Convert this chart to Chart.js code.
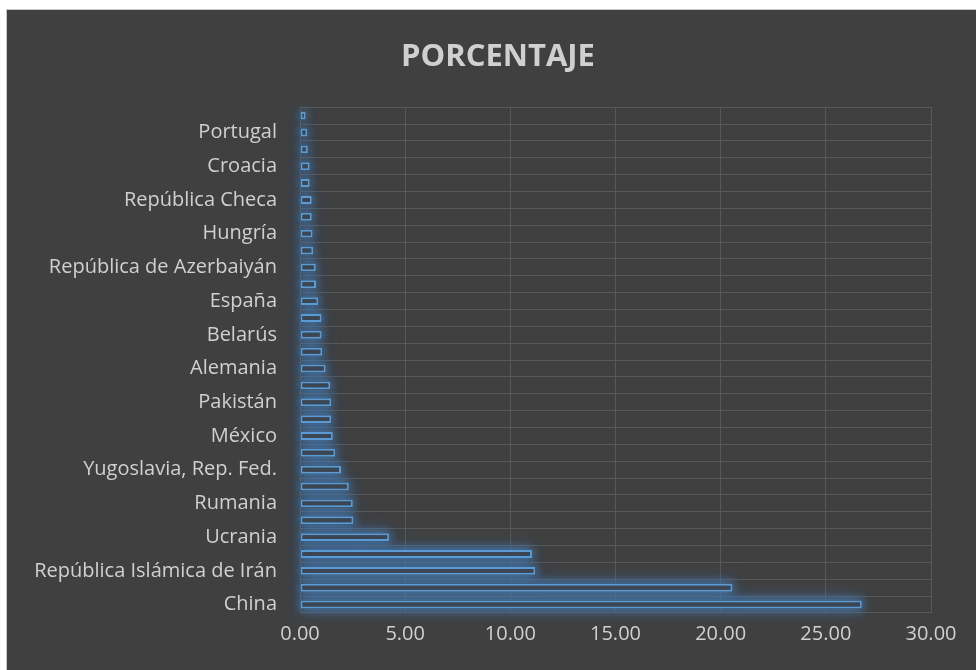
<!DOCTYPE html>
<html>
<head>
<meta charset="utf-8">
<script src="https://cdn.jsdelivr.net/npm/chart.js@4"></script>
<style>
  html, body { margin: 0; padding: 0; background: #ffffff; overflow: hidden; }
  #panel {
    position: absolute; left: 6px; top: 9px; width: 970px; height: 661px; overflow: hidden;
    background: #404040; border-left: 1px solid #c8c8c8; border-top: 1px solid #c8c8c8;
  }
  #chart { display: block; }
</style>
</head>
<body>
<div id="panel"><canvas id="chart" width="982" height="660"></canvas></div>
<script>
// bottom-to-top, as in the original sheet (first row = bottom bar)
const categories = [
  'China', '', 'República Islámica de Irán', '', 'Ucrania', '',
  'Rumania', '', 'Yugoslavia, Rep. Fed.', '', 'México', '',
  'Pakistán', '', 'Alemania', '', 'Belarús', '', 'España', '',
  'República de Azerbaiyán', '', 'Hungría', '', 'República Checa', '',
  'Croacia', '', 'Portugal', '',
];
const porcentaje = [
  26.71, 20.56, 11.19, 11.03, 4.24, 2.54, 2.51, 2.32, 1.95, 1.68,
  1.56, 1.49, 1.49, 1.44, 1.22, 1.06, 1.03, 1.03, 0.87, 0.76,
  0.75, 0.63, 0.60, 0.56, 0.56, 0.46, 0.46, 0.37, 0.35, 0.27,
];
const xTicks = [0, 5, 10, 15, 20, 25, 30];

const textColor = '#d0d0d0';
const gridColor = '#595959';
const barFill = '#3b4652';

// BarElement clips to its own rect, so the soft glow is painted underneath first
const glowPlugin = {
  id: 'barGlow',
  beforeDatasetsDraw(chart) {
    const { ctx } = chart;
    const meta = chart.getDatasetMeta(0);
    ctx.save();
    ctx.shadowColor = 'rgba(70, 125, 185, 0.7)';
    ctx.fillStyle = barFill;
    [18, 12, 8].forEach((blur) => {
      ctx.shadowBlur = blur;
      meta.data.forEach((bar) => {
        const { x, y, base, height } = bar.getProps(['x', 'y', 'base', 'height'], true);
        ctx.fillRect(base, y - height / 2, x - base, height);
      });
    });
    ctx.restore();
  },
};

new Chart(document.getElementById('chart'), {
  type: 'bar',
  data: {
    labels: categories,
    datasets: [{
      label: 'PORCENTAJE',
      data: porcentaje,
      backgroundColor: barFill,
      borderColor: '#5b9bd5',
      borderWidth: 2,
      borderSkipped: false,
      barPercentage: 0.47,
      categoryPercentage: 1,
    }],
  },
  options: {
    indexAxis: 'y',
    responsive: false,
    animation: false,
    layout: { padding: 0 },
    plugins: {
      legend: { display: false },
      tooltip: { enabled: false },
      title: {
        display: true,
        text: 'PORCENTAJE',
        color: textColor,
        font: { family: 'Open Sans', size: 31, weight: 'bold' },
        padding: { top: 29, bottom: 31 },
      },
    },
    scales: {
      x: {
        min: 0,
        max: 30,
        afterBuildTicks(scale) {
          scale.ticks = xTicks.map((value) => ({ value }));
        },
        afterFit(scale) { scale.height = 57; },
        grid: { color: gridColor, drawTicks: false },
        border: { display: false },
        ticks: {
          color: textColor,
          padding: 9,
          font: { family: 'Open Sans', size: 20 },
          callback: (value) => Number(value).toFixed(2),
        },
      },
      y: {
        reverse: true,
        afterFit(scale) { scale.width = 293; },
        grid: { color: gridColor, drawTicks: false },
        border: { display: false },
        ticks: {
          color: textColor,
          autoSkip: false,
          padding: 23,
          font: { family: 'Open Sans', size: 20 },
        },
      },
      // empty right-hand gutter so the plot ends where the reference's does
      gutter: {
        axis: 'y',
        type: 'category',
        position: 'right',
        afterFit(scale) { scale.width = 58; },
        grid: { display: false },
        border: { display: false },
        ticks: { display: false },
      },
    },
  },
  plugins: [glowPlugin],
});
</script>
</body>
</html>
